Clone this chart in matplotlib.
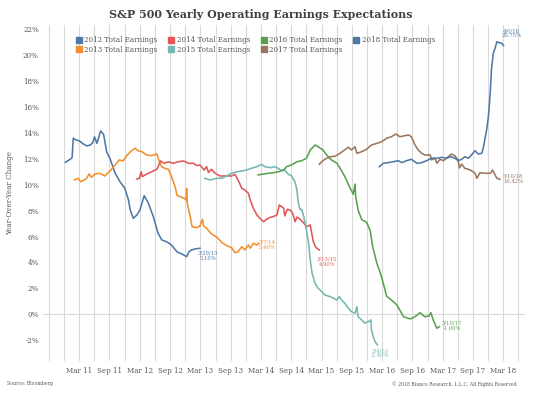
import matplotlib.pyplot as plt
from matplotlib.lines import Line2D
import numpy as np

# Dates are decimal years, values are year-over-year change in percent
t2012 = [2010.94, 2011.02, 2011.05, 2011.07, 2011.11, 2011.17, 2011.22, 2011.29, 2011.35, 2011.39,
         2011.42, 2011.46, 2011.52, 2011.57, 2011.62, 2011.68, 2011.76, 2011.84, 2011.92, 2011.98,
         2012.01, 2012.06, 2012.12, 2012.17, 2012.24, 2012.31, 2012.39, 2012.47, 2012.53, 2012.61,
         2012.69, 2012.78, 2012.86, 2012.94, 2012.98, 2013.02, 2013.08, 2013.16]
v2012 = [11.74, 11.97, 12.1, 13.6, 13.46, 13.4, 13.2, 13.0, 13.07, 13.25,
         13.7, 13.2, 14.15, 13.9, 12.55, 11.97, 10.9, 10.24, 9.73, 8.83,
         8.05, 7.41, 7.67, 8.05, 9.16, 8.57, 7.54, 6.25, 5.74, 5.6,
         5.35, 4.83, 4.66, 4.45, 4.83, 4.97, 5.04, 5.1]

t2013 = [2011.09, 2011.15, 2011.19, 2011.25, 2011.29, 2011.33, 2011.37, 2011.43, 2011.51, 2011.59,
         2011.68, 2011.76, 2011.83, 2011.89, 2011.96, 2012.03, 2012.09, 2012.14, 2012.20, 2012.28,
         2012.36, 2012.45, 2012.49, 2012.53, 2012.58, 2012.64, 2012.69, 2012.75, 2012.78, 2012.83,
         2012.90, 2012.93, 2012.94, 2012.95, 2013.00, 2013.03, 2013.11, 2013.16, 2013.20, 2013.22,
         2013.27, 2013.35, 2013.44, 2013.52, 2013.60, 2013.68, 2013.74, 2013.79, 2013.85, 2013.90,
         2013.96, 2013.99, 2014.04, 2014.10, 2014.13]
v2013 = [10.37, 10.5, 10.24, 10.37, 10.5, 10.83, 10.58, 10.83, 10.89, 10.68,
         11.09, 11.53, 11.92, 11.84, 12.3, 12.63, 12.82, 12.63, 12.56, 12.3,
         12.25, 12.38, 11.78, 11.4, 11.27, 11.2, 10.63, 9.85, 9.21, 9.08,
         8.96, 8.83, 9.73, 8.57, 7.54, 6.76, 6.69, 6.82, 7.34, 6.82,
         6.64, 6.2, 5.95, 5.55, 5.3, 5.15, 4.75, 4.83, 5.22, 4.97,
         5.35, 5.1, 5.48, 5.35, 5.48]

t2014 = [2012.12, 2012.16, 2012.19, 2012.21, 2012.28, 2012.36, 2012.45, 2012.51, 2012.57, 2012.64,
         2012.72, 2012.80, 2012.89, 2012.97, 2013.05, 2013.11, 2013.16, 2013.23, 2013.27, 2013.30,
         2013.35, 2013.41, 2013.49, 2013.57, 2013.68, 2013.74, 2013.81, 2013.85, 2013.90, 2013.96,
         2013.99, 2014.04, 2014.10, 2014.15, 2014.21, 2014.26, 2014.32, 2014.37, 2014.43, 2014.47,
         2014.51, 2014.54, 2014.56, 2014.60, 2014.65, 2014.69, 2014.73, 2014.76, 2014.81, 2014.87,
         2014.92, 2014.98, 2015.00, 2015.03, 2015.07, 2015.13]
v2014 = [10.45, 10.5, 11.0, 10.63, 10.83, 11.0, 11.2, 11.84, 11.66, 11.78,
         11.66, 11.78, 11.84, 11.66, 11.66, 11.48, 11.53, 11.14, 11.4, 10.95,
         11.2, 10.89, 10.68, 10.68, 10.68, 10.8, 10.16, 9.73, 9.6, 9.34,
         8.83, 8.19, 7.67, 7.41, 7.15, 7.34, 7.49, 7.54, 7.67, 8.44,
         8.3, 8.2, 7.6, 8.1, 8.05, 7.8, 7.15, 7.5, 7.35, 7.05,
         6.76, 6.9, 6.38, 5.61, 5.17, 4.97]

t2015 = [2013.24, 2013.33, 2013.44, 2013.52, 2013.60, 2013.68, 2013.77, 2013.85, 2013.93, 2014.01,
         2014.10, 2014.18, 2014.23, 2014.32, 2014.40, 2014.45, 2014.51, 2014.56, 2014.62, 2014.67,
         2014.73, 2014.76, 2014.78, 2014.81, 2014.84, 2014.87, 2014.91, 2014.95, 2014.98, 2015.01,
         2015.06, 2015.11, 2015.17, 2015.22, 2015.31, 2015.36, 2015.42, 2015.46, 2015.50, 2015.55,
         2015.61, 2015.66, 2015.72, 2015.75, 2015.77, 2015.83, 2015.88, 2015.94, 2015.98, 2015.99,
         2016.02, 2016.05, 2016.09]
v2015 = [10.5, 10.37, 10.5, 10.5, 10.68, 10.89, 11.0, 11.07, 11.14, 11.27,
         11.4, 11.58, 11.4, 11.32, 11.4, 11.27, 11.09, 11.14, 10.8, 10.7,
         10.2, 9.6, 8.7, 8.1, 8.1, 7.6, 6.7, 5.6, 4.2, 3.17,
         2.39, 2.0, 1.75, 1.49, 1.36, 1.24, 1.1, 1.36, 1.1, 0.85,
         0.46, 0.2, 0.08, 0.59, -0.19, -0.44, -0.69, -0.57, -0.44, -1.21,
         -1.73, -2.12, -2.37]

t2016 = [2014.12, 2014.21, 2014.29, 2014.37, 2014.45, 2014.54, 2014.59, 2014.67, 2014.76, 2014.84,
         2014.92, 2014.98, 2015.06, 2015.11, 2015.19, 2015.25, 2015.33, 2015.42, 2015.47, 2015.55,
         2015.64, 2015.69, 2015.72, 2015.73, 2015.77, 2015.83, 2015.91, 2015.97, 2016.01, 2016.08,
         2016.16, 2016.24, 2016.32, 2016.41, 2016.52, 2016.63, 2016.71, 2016.79, 2016.87, 2016.94,
         2016.97, 2017.01, 2017.07, 2017.11]
v2016 = [10.76, 10.83, 10.89, 10.93, 11.0, 11.14, 11.4, 11.53, 11.78, 11.86,
         12.05, 12.69, 13.07, 12.94, 12.69, 12.3, 11.92, 11.66, 11.3, 10.63,
         9.73, 9.27, 10.05, 9.08, 8.05, 7.3, 7.1, 6.45, 5.22, 3.94,
         2.85, 1.4, 1.1, 0.72, -0.19, -0.36, -0.19, 0.12, -0.19, -0.13,
         0.12, -0.44, -1.08, -0.96]

t2017 = [2015.13, 2015.17, 2015.22, 2015.31, 2015.39, 2015.47, 2015.55, 2015.61, 2015.66, 2015.72,
         2015.75, 2015.83, 2015.91, 2015.99, 2016.08, 2016.16, 2016.24, 2016.32, 2016.39, 2016.46,
         2016.52, 2016.60, 2016.65, 2016.71, 2016.76, 2016.82, 2016.87, 2016.96, 2016.98, 2017.04,
         2017.07, 2017.12, 2017.18, 2017.26, 2017.31, 2017.37, 2017.42, 2017.44, 2017.48, 2017.53,
         2017.59, 2017.64, 2017.70, 2017.73, 2017.78, 2017.86, 2017.95, 2017.99, 2018.03, 2018.06,
         2018.11]
v2017 = [11.58, 11.78, 11.97, 12.17, 12.2, 12.43, 12.7, 12.9, 12.69, 12.94,
         12.43, 12.56, 12.74, 13.07, 13.2, 13.33, 13.59, 13.71, 13.92, 13.71,
         13.77, 13.85, 13.71, 13.07, 12.69, 12.43, 12.3, 12.3, 11.92, 12.05,
         11.66, 11.97, 11.86, 12.17, 12.38, 12.22, 11.92, 11.3, 11.6, 11.27,
         11.2, 11.09, 10.89, 10.5, 10.93, 10.89, 10.89, 11.14, 10.76, 10.5,
         10.42]

t2018 = [2016.12, 2016.19, 2016.27, 2016.35, 2016.43, 2016.49, 2016.57, 2016.65, 2016.74, 2016.82,
         2016.90, 2016.98, 2017.07, 2017.15, 2017.23, 2017.29, 2017.37, 2017.42, 2017.48, 2017.53,
         2017.59, 2017.64, 2017.70, 2017.75, 2017.81, 2017.84, 2017.86, 2017.89, 2017.92, 2017.95,
         2017.97, 2018.00, 2018.03, 2018.06, 2018.10, 2018.14, 2018.17]
v2018 = [11.4, 11.66, 11.71, 11.78, 11.86, 11.71, 11.86, 11.97, 11.66, 11.71,
         11.86, 12.05, 12.05, 12.12, 12.05, 12.17, 12.05, 11.86, 11.97, 12.17,
         12.05, 12.3, 12.63, 12.38, 12.43, 12.94, 13.46, 14.23, 15.26, 17.07,
         18.86, 20.15, 20.54, 21.05, 20.97, 20.93, 20.75]

labels = ['2012 Total Earnings', '2013 Total Earnings', '2014 Total Earnings', '2015 Total Earnings',
          '2016 Total Earnings', '2017 Total Earnings', '2018 Total Earnings']
colors = ['#4E79A7', '#F28E2B', '#E15759', '#76B7B2', '#59A14F', '#9C755F', '#4E79A7']

# end-of-series callouts: (text, x, y)
end_notes = [('3/29/13\n5.10%', 2013.29, 4.5),
             ('3/7/14\n5.40%', 2014.27, 5.35),
             ('3/13/15\n4.90%', 2015.26, 4.05),
             ('3/4/16\n-2.40%', 2016.13, -3.0),
             ('3/10/17\n-1.00%', 2017.32, -0.9),
             ('3/16/18\n10.42%', 2018.33, 10.45),
             ('4/6/18\n20.75%', 2018.30, 21.7)]

tick_years = list(range(2011, 2019))

serif = 'DejaVu Serif'
grey = '#595959'

fig = plt.figure(figsize=(5.33, 3.99), dpi=100)
ax = fig.add_axes([43 / 533, 1 - 361 / 399, 482 / 533, 336 / 399])

all_t = [t2012, t2013, t2014, t2015, t2016, t2017, t2018]
all_v = [v2012, v2013, v2014, v2015, v2016, v2017, v2018]
for t, v, c in zip(all_t, all_v, colors):
    ax.plot(t, v, color=c, lw=1.15)

for (txt, x, y), c in zip(end_notes, colors):
    ax.text(x, y, txt, color=c, fontsize=3.8, family=serif, ha='center', va='center', linespacing=1.0)

# quarterly grid, labels every March / September
minor = [y + m / 12 for y in range(2010, 2019) for m in (2, 5, 8, 11)]
major = []
major_lab = []
for y in tick_years:
    major.append(y + 2 / 12)
    major_lab.append('Mar %02d' % (y % 100))
    if y < 2018:
        major.append(y + 8 / 12)
        major_lab.append('Sep %02d' % (y % 100))
ax.set_xticks(major)
ax.set_xticklabels(major_lab)
ax.set_xticks(minor, minor=True)
ax.grid(True, axis='x', which='both', color='#d9d9d9', lw=0.8)
ax.axhline(0, color='#d9d9d9', lw=0.8, zorder=0)
ax.set_axisbelow(True)

ax.set_xlim(2010.57, 2018.524)
ax.set_ylim(-3.61, 22.34)
ax.set_yticks(np.arange(-2, 23, 2))
ax.set_yticklabels(['%d%%' % v for v in np.arange(-2, 23, 2)])
ax.tick_params(length=0, labelsize=5.1, labelcolor=grey, which='both')
for lb in ax.get_xticklabels() + ax.get_yticklabels():
    lb.set_family(serif)
ax.tick_params(axis='x', pad=4)
ax.tick_params(axis='y', pad=3)
for s in ax.spines.values():
    s.set_visible(False)

ax.set_ylabel('Year-Over-Year Change', family=serif, fontsize=5.2, color=grey)
ax.yaxis.set_label_coords(-0.06, 0.5)

handles = [Line2D([], [], ls='', marker='s', ms=4.3, color=c) for c in colors]
ax.legend(handles, labels, ncol=4, loc='upper left', bbox_to_anchor=(0.068, 0.967), frameon=False,
          prop={'family': serif, 'size': 5.1}, labelcolor=grey, handlelength=0.9,
          handletextpad=0.3, columnspacing=1.5, labelspacing=0.2, borderaxespad=0, borderpad=0)

fig.text(261 / 533, 1 - 15 / 399, 'S&P 500 Yearly Operating Earnings Expectations',
         family=serif, weight='bold', fontsize=7.9, color='#404040', ha='center', va='center')
fig.text(7 / 533, 1 - 384 / 399, 'Source: Bloomberg', family=serif, fontsize=3.3, color=grey, va='center')
fig.text(517 / 533, 1 - 384 / 399, '\u00a9 2018 Bianco Research, L.L.C. All Rights Reserved',
         family=serif, fontsize=3.3, color=grey, va='center', ha='right')

fig.savefig('out.png', dpi=100)
